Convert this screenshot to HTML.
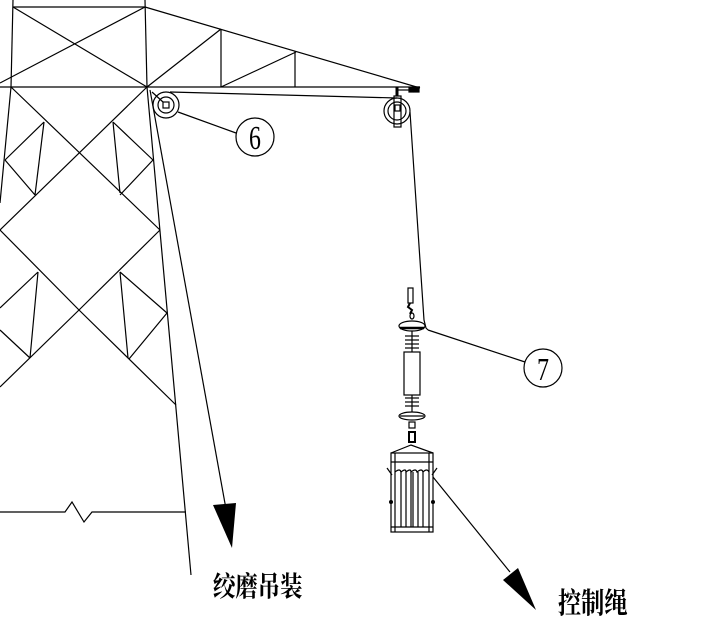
<!DOCTYPE html>
<html><head><meta charset="utf-8"><style>
html,body{margin:0;padding:0;background:#fff;}
svg{display:block}
text{font-family:"Liberation Serif","Noto Serif CJK SC","Noto Sans CJK SC",serif;fill:#000}
</style></head><body>
<svg width="702" height="632" viewBox="0 0 702 632" xmlns="http://www.w3.org/2000/svg">
<g stroke="#000" stroke-width="1.2" fill="none">
<line x1="13" y1="7" x2="145" y2="7"/>
<line x1="13" y1="0" x2="11" y2="87"/>
<line x1="145" y1="0" x2="147" y2="87"/>
<line x1="13" y1="7" x2="147" y2="87"/>
<line x1="145" y1="7" x2="0" y2="83"/>
<line x1="0" y1="87" x2="420" y2="87"/>
<line x1="145" y1="7" x2="420" y2="88"/>
<line x1="221" y1="29" x2="221" y2="87"/>
<line x1="295" y1="51" x2="295" y2="87"/>
<line x1="147" y1="87" x2="221" y2="29"/>
<line x1="221" y1="87" x2="296" y2="52"/>
<line x1="11" y1="87" x2="0" y2="203"/>
<line x1="147" y1="87" x2="191" y2="575"/>
<line x1="11" y1="87" x2="160" y2="230"/>
<line x1="147" y1="87" x2="0" y2="230"/>
<line x1="160" y1="230" x2="79" y2="310"/>
<line x1="0" y1="230" x2="79" y2="310"/>
<line x1="44" y1="122" x2="35" y2="195"/>
<line x1="113" y1="122" x2="120" y2="193"/>
<line x1="44" y1="122" x2="5" y2="160"/>
<line x1="5" y1="160" x2="35" y2="195"/>
<line x1="113" y1="122" x2="153" y2="160"/>
<line x1="153" y1="160" x2="120" y2="195"/>
<line x1="38" y1="272" x2="30" y2="358"/>
<line x1="120" y1="272" x2="128" y2="358"/>
<line x1="38" y1="272" x2="0" y2="308"/>
<line x1="0" y1="330" x2="30" y2="358"/>
<line x1="120" y1="272" x2="167" y2="313"/>
<line x1="167" y1="313" x2="129" y2="359"/>
<line x1="79" y1="310" x2="0" y2="387"/>
<line x1="79" y1="310" x2="176" y2="405"/>
<polyline points="0,512 65,512 72,502 84,522 92,512 186,512"/>
<line x1="150" y1="90" x2="228" y2="520"/>
<circle cx="166" cy="105" r="13"/>
<circle cx="166" cy="105" r="8"/>
<rect x="163" y="102" width="6" height="6"/>
<line x1="152" y1="92" x2="163" y2="102"/>
<line x1="178" y1="112" x2="236" y2="133"/>
<circle cx="255" cy="137" r="19"/>
<line x1="170" y1="92" x2="397" y2="98"/>
<circle cx="397" cy="111" r="13"/>
<circle cx="397" cy="111" r="9"/>
<rect x="394" y="96" width="7" height="31"/>
<rect x="395" y="105" width="5" height="6"/>
<line x1="397" y1="87" x2="397" y2="96" stroke-width="3"/>
<line x1="397" y1="90" x2="412" y2="90"/>
<rect x="409" y="88" width="4" height="4" fill="#000"/>
<rect x="414" y="87" width="5" height="5" fill="#000"/>
<polyline points="410,112 424,320 426,328 428,330"/>
<line x1="428" y1="330" x2="525" y2="362"/>
<circle cx="543" cy="368" r="19"/>
<rect x="408" y="288" width="5" height="15"/>
<path d="M410 303 l-2 4 l4 3 l-2 4" stroke-width="2"/>
<ellipse cx="412" cy="316" rx="2" ry="3"/>
<ellipse cx="412" cy="326" rx="13" ry="5"/>
<line x1="400" y1="328" x2="424" y2="328" stroke-width="2.5"/>
<line x1="412" y1="331" x2="412" y2="352"/>
<line x1="405" y1="336" x2="419" y2="336"/><line x1="405" y1="340" x2="419" y2="340"/>
<line x1="405" y1="344" x2="419" y2="344"/><line x1="405" y1="348" x2="419" y2="348"/>
<rect x="404" y="352" width="16" height="43"/>
<line x1="412" y1="395" x2="412" y2="412"/>
<line x1="405" y1="398" x2="419" y2="398"/><line x1="405" y1="402" x2="419" y2="402"/>
<line x1="405" y1="406" x2="419" y2="406"/>
<ellipse cx="412" cy="416" rx="13" ry="4"/>
<line x1="400" y1="416" x2="424" y2="416"/>
<rect x="409" y="422" width="6" height="6"/>
<rect x="409" y="432" width="6" height="10" stroke-width="2"/>
<polyline points="391,453 411,445 433,453"/>
<rect x="391" y="453" width="42" height="79"/>
<line x1="395" y1="453" x2="395" y2="532"/>
<line x1="429" y1="453" x2="429" y2="532"/>
<line x1="391" y1="462" x2="433" y2="462"/>
<line x1="391" y1="527" x2="433" y2="527"/>
<path d="M395 472 q5 -4 6 0 q5 -4 5 0 q5 -4 5 0 q5 -4 6 0 q5 -4 6 0 q4 -4 6 0"/>
<line x1="401" y1="472" x2="401" y2="527"/>
<line x1="406" y1="472" x2="406" y2="527"/>
<line x1="411" y1="472" x2="411" y2="527"/>
<line x1="413" y1="472" x2="413" y2="527"/>
<line x1="418" y1="472" x2="418" y2="527"/>
<line x1="423" y1="472" x2="423" y2="527"/>
<line x1="387" y1="468" x2="392" y2="475"/>
<line x1="437" y1="468" x2="432" y2="475"/>
<line x1="433" y1="477" x2="510" y2="572"/>
</g>
<g fill="#000">
<circle cx="391" cy="502" r="2"/><circle cx="433" cy="502" r="2"/>
<polygon points="213,505 236,503 232,548"/>
<polygon points="503,580 518,568 536,610"/>
</g>
<text x="255" y="149" font-size="34" text-anchor="middle" transform="translate(255 0) scale(0.7 1) translate(-255 0)">6</text>
<text x="543" y="380" font-size="32" text-anchor="middle" transform="translate(543 0) scale(0.75 1) translate(-543 0)">7</text>
<text x="213" y="596" font-size="28" font-weight="bold" transform="translate(213 0) scale(0.8 1) translate(-213 0)" style="font-family:'Noto Serif CJK SC','Noto Sans CJK SC',serif">绞磨吊装</text>
<text x="558" y="613" font-size="29" font-weight="bold" transform="translate(558 0) scale(0.8 1) translate(-558 0)" style="font-family:'Noto Serif CJK SC','Noto Sans CJK SC',serif">控制绳</text>
</svg>
</body></html>
